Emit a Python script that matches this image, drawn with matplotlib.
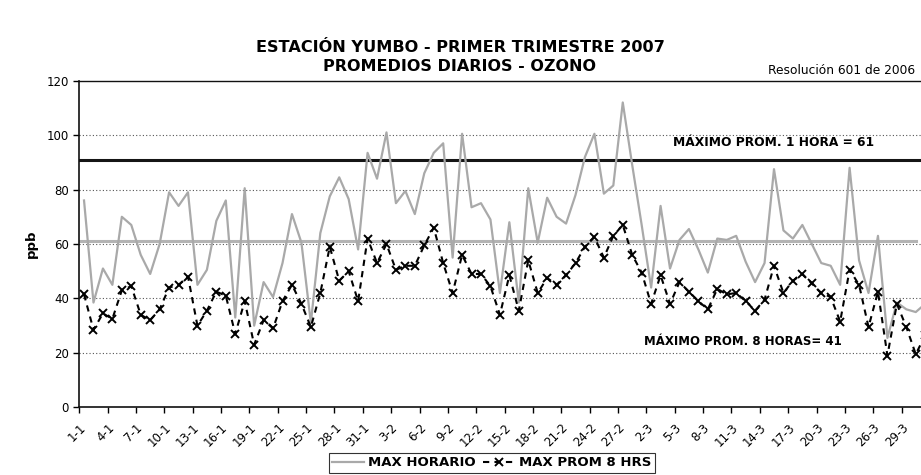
import numpy as np
import matplotlib.pyplot as plt

plt.rcParams['font.family'] = ['DejaVu Sans']

# dias 1-ene .. 31-mar 2007
dias = np.arange(1, 91)

max_horario = [76, 38.5, 51, 45, 70, 67, 56, 49, 60, 79, 74, 79, 45, 50.5, 68.5,
               76, 33, 80.5, 30, 46, 40.5, 53, 71, 60.5, 31, 64, 77.5, 84.5, 76.5, 58,
               93.5, 84, 101, 75, 79.5, 71, 86, 93.5, 97, 55, 100.5, 73.5, 75, 69, 42,
               68, 38.5, 80.5, 60.5, 77, 70, 67.5, 78, 92, 100.5, 78.5, 81.5, 112, 89, 67,
               44, 74, 51, 61.5, 65.5, 58, 49.5, 62, 61.5, 63, 53.5, 46, 53, 87.5, 65,
               62, 67, 60, 53, 52, 45, 88, 54, 42, 63, 25.5, 38.5, 36, 35, 38]

max_prom8 = [41.5, 28.5, 34.5, 32.5, 43, 44.5, 34, 32, 36, 44, 45, 48, 30, 35.5, 42.5,
             41, 27, 39, 23, 32, 29, 39, 45, 38, 29.5, 42, 59, 46.5, 50, 39,
             62, 53, 60, 50.5, 52, 52, 59.5, 66, 53, 42, 56, 49, 49, 44.5, 34,
             48.5, 35.5, 54, 42, 47.5, 45, 48.5, 53, 59, 62.5, 55, 63, 67, 56, 49.5,
             38, 48.5, 38, 46, 42.5, 39, 36, 43.5, 41.5, 42, 39, 35.5, 39.5, 52, 42,
             46.5, 49, 45.5, 42, 40.5, 31.5, 50.5, 45, 29.5, 42.5, 19, 38, 29.5, 19.5, 26.5]

etiquetas = ['1-1', '4-1', '7-1', '10-1', '13-1', '16-1', '19-1', '22-1', '25-1', '28-1',
             '31-1', '3-2', '6-2', '9-2', '12-2', '15-2', '18-2', '21-2', '24-2', '27-2',
             '2-3', '5-3', '8-3', '11-3', '14-3', '17-3', '20-3', '23-3', '26-3', '29-3']

norma_1h = 91
norma_8h = 61

fig = plt.figure(figsize=(9.21, 4.75), dpi=100)
ax = fig.add_axes([0.0861, 0.1425, 0.919, 0.6876])

ax.plot(dias, max_horario, color='#a9a9a9', lw=1.6, label='MAX HORARIO', zorder=3)
ax.plot(dias, max_prom8, color='black', lw=1.5, ls=(0, (3, 2.5)), marker='x',
        ms=5.5, mew=1.4, label='MAX PROM 8 HRS', zorder=4)

ax.axhline(norma_1h, color='#151515', lw=2.2, zorder=2)
ax.plot([0.5, 89], [norma_8h, norma_8h], color='#b4b4b4', lw=2.2, zorder=2)

for v in [20, 40, 60, 80, 100]:
    ax.axhline(v, color='#555555', lw=0.8, ls=(0, (1, 2)), zorder=1)

ax.set_ylim(0, 120)
ax.set_yticks(range(0, 121, 20))
ax.set_xlim(0.5, 90.05)

# marcas cada 3 dias en los limites de categoria, etiqueta rotada bajo cada marca
ax.set_xticks(np.arange(0.5, 90, 3))
ax.set_xticklabels(etiquetas, rotation=45, ha='right', va='top',
                   rotation_mode='anchor', fontsize=8.5)
ax.tick_params(axis='x', length=4, width=1, direction='out', pad=6)
ax.tick_params(axis='y', length=4, width=1, labelsize=8.5)

ax.spines['right'].set_visible(False)
for s in ['left', 'bottom', 'top']:
    ax.spines[s].set_linewidth(1.2 if s != 'top' else 1.0)
    ax.spines[s].set_color('#111111')

ax.set_ylabel('ppb', fontsize=9.5, fontweight='bold', labelpad=6)

ax.text(74.0, 97.2, 'MÁXIMO PROM. 1 HORA = 61', fontsize=8.8, fontweight='bold',
        ha='center', va='center')
ax.text(70.7, 24.2, 'MÁXIMO PROM. 8 HORAS= 41', fontsize=8.5, fontweight='bold',
        ha='center', va='center')
ax.text(88.9, 121.5, 'Resolución 601 de 2006', fontsize=8.8, ha='right', va='bottom')

fig.text(0.4995, 0.901, 'ESTACIÓN YUMBO - PRIMER TRIMESTRE 2007', fontsize=11.6,
         fontweight='bold', ha='center', va='center')
fig.text(0.4985, 0.861, 'PROMEDIOS DIARIOS - OZONO', fontsize=11.5,
         fontweight='bold', ha='center', va='center')

leg = fig.legend(loc='upper center', bbox_to_anchor=(0.534, 0.06), ncol=2,
                 frameon=True, fancybox=False, edgecolor='black',
                 handlelength=2.4, columnspacing=0.6, handletextpad=0.3,
                 borderpad=0.25, prop={'weight': 'bold', 'size': 9.5})
leg.get_frame().set_linewidth(0.8)

fig.savefig('out.png', dpi=100)
